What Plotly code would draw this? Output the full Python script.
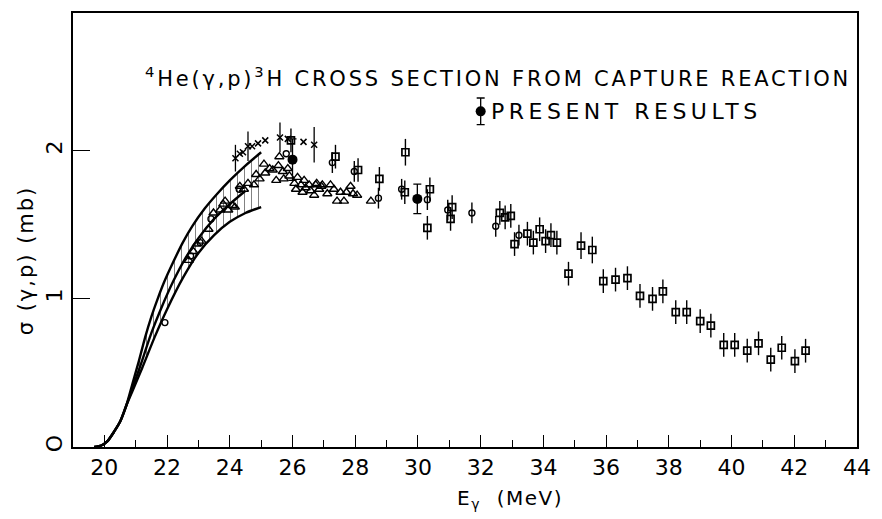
import plotly.graph_objects as go

# ---------------- data ----------------
# theory band (upper / middle / lower curves), E in MeV, sigma in mb
base_E = [19.68, 19.9, 20.1, 20.3, 20.5, 20.7]
base_s = [0.0, 0.01, 0.04, 0.1, 0.17, 0.28]
upper_E = base_E + [20.9, 21.1, 21.3, 21.5, 21.7, 21.9, 22.2, 22.5, 22.8, 23.2, 23.6, 24.0, 24.5, 25.0]
upper_s = base_s + [0.43, 0.58, 0.74, 0.88, 1.0, 1.11, 1.25, 1.38, 1.49, 1.61, 1.71, 1.80, 1.90, 1.99]
middle_E = base_E + [20.9, 21.15, 21.5, 21.8, 22.2, 22.6, 23.0, 23.5, 24.0, 24.5]
middle_s = base_s + [0.40, 0.55, 0.77, 0.93, 1.12, 1.28, 1.41, 1.54, 1.64, 1.73]
lower_E = base_E + [20.9, 21.2, 21.6, 22.0, 22.5, 23.0, 23.5, 24.0, 24.5, 25.0]
lower_s = base_s + [0.38, 0.53, 0.74, 0.93, 1.14, 1.31, 1.43, 1.52, 1.58, 1.62]

# triangles
tri_E = [22.69, 22.84, 22.95, 23.1, 23.32, 23.48, 23.69, 23.79, 23.85, 23.95, 24.09, 24.16,
         24.32, 24.45, 24.58, 24.77, 24.84, 24.95, 25.09, 25.13, 25.27, 25.37, 25.48, 25.55,
         25.58, 25.69, 25.72, 25.85, 25.9, 26.06, 26.11, 26.16, 26.27, 26.32, 26.37, 26.42,
         26.53, 26.58, 26.69, 26.74, 26.77, 26.85, 26.92, 26.95, 27.11, 27.21, 27.32, 27.42,
         27.53, 27.64, 27.72, 27.85, 27.93, 28.06, 28.5]
tri_s = [1.26, 1.32, 1.37, 1.39, 1.47, 1.58, 1.6, 1.64, 1.66, 1.6, 1.63, 1.62,
         1.76, 1.74, 1.78, 1.77, 1.84, 1.81, 1.91, 1.85, 1.88, 1.87, 1.8, 1.9,
         1.96, 1.86, 1.81, 1.88, 1.83, 1.78, 1.74, 1.82, 1.77, 1.72, 1.8, 1.75,
         1.77, 1.73, 1.7, 1.77, 1.78, 1.74, 1.76, 1.77, 1.71, 1.77, 1.74, 1.66,
         1.72, 1.66, 1.72, 1.76, 1.71, 1.7, 1.66]

# open circles (with error bars)
cir_E = [21.93, 22.75, 23.05, 23.4, 24.3, 25.8, 27.27, 27.97, 28.74, 29.48, 30.3, 30.95, 31.72, 32.48, 33.22]
cir_s = [0.84, 1.29, 1.38, 1.54, 1.74, 1.98, 1.92, 1.86, 1.68, 1.74, 1.67, 1.6, 1.58, 1.49, 1.43]
cir_err = [0, 0, 0, 0, 0, 0, 0.07, 0.07, 0.07, 0.07, 0.07, 0.07, 0.07, 0.07, 0.07]

# open squares (with error bars)
sq_E = [25.95, 27.37, 28.09, 28.77, 29.6, 29.58, 30.38, 30.3, 31.09, 31.04, 32.61, 32.78, 32.96,
        33.08, 33.49, 33.68, 33.88, 34.07, 34.24, 34.43, 34.8, 35.2, 35.56, 35.91, 36.3, 36.68,
        37.08, 37.48, 37.81, 38.22, 38.57, 39.0, 39.34, 39.75, 40.1, 40.5, 40.86, 41.25, 41.6,
        42.02, 42.36]
sq_s = [2.07, 1.96, 1.87, 1.81, 1.99, 1.72, 1.74, 1.48, 1.62, 1.54, 1.58, 1.55, 1.56,
        1.37, 1.44, 1.38, 1.47, 1.39, 1.43, 1.38, 1.17, 1.36, 1.33, 1.12, 1.13, 1.14,
        1.02, 1.0, 1.05, 0.91, 0.91, 0.85, 0.82, 0.69, 0.69, 0.65, 0.7, 0.59, 0.67,
        0.58, 0.65]
sq_err = [0.08, 0.08, 0.08, 0.08, 0.09, 0.08, 0.08, 0.08, 0.08, 0.08, 0.08, 0.08, 0.08,
          0.08, 0.08, 0.08, 0.08, 0.08, 0.08, 0.08, 0.08, 0.09, 0.09, 0.08, 0.08, 0.08,
          0.08, 0.08, 0.08, 0.08, 0.08, 0.08, 0.08, 0.08, 0.08, 0.08, 0.08, 0.08, 0.08,
          0.08, 0.08]

# crosses
x_E = [24.18, 24.32, 24.42, 24.58, 24.71, 24.9, 25.13, 25.6, 25.85, 26.35, 26.69]
x_s = [1.95, 1.98, 1.99, 2.03, 2.03, 2.05, 2.07, 2.09, 2.08, 2.06, 2.04]
x_err = [0.09, 0, 0, 0.1, 0, 0, 0, 0.1, 0, 0, 0.12]

# present results (filled circles)
pr_E = [26.0, 29.98]
pr_s = [1.94, 1.675]
pr_err = [0.14, 0.10]

# legend key for present results
key_E = [32.0]
key_s = [2.266]
key_err = [0.09]

x_ticks = [20, 22, 24, 26, 28, 30, 32, 34, 36, 38, 40, 42, 44]
y_ticks = [0, 1, 2]
y_tick_text = ["O", "1", "2"]

# ---------------- figure ----------------
FONT = "DejaVu Sans"


def spaced(txt, px):
    return '<span style="letter-spacing:%spx">%s</span>' % (px, txt)


fig = go.Figure()

band_x = upper_E + lower_E[::-1]
band_y = upper_s + lower_s[::-1]
fig.add_trace(go.Scatter(x=band_x, y=band_y, mode="lines", fill="toself",
                         fillcolor="rgba(0,0,0,0)", line=dict(width=0),
                         fillpattern=dict(shape="|", fgcolor="black", bgcolor="white",
                                          size=7, solidity=0.14),
                         hoverinfo="skip"))
for xs, ys in [(upper_E, upper_s), (middle_E, middle_s), (lower_E, lower_s)]:
    fig.add_trace(go.Scatter(x=xs, y=ys, mode="lines",
                             line=dict(color="black", width=2.4, shape="spline", smoothing=0.6),
                             hoverinfo="skip"))

fig.add_trace(go.Scatter(x=tri_E, y=tri_s, mode="markers",
                         marker=dict(symbol="triangle-up-open", size=8, color="black",
                                     line=dict(width=1.4, color="black"))))
fig.add_trace(go.Scatter(x=cir_E, y=cir_s, mode="markers",
                         error_y=dict(type="data", array=cir_err, width=0, color="black", thickness=1.4),
                         marker=dict(symbol="circle-open", size=6, color="black",
                                     line=dict(width=1.4, color="black"))))
fig.add_trace(go.Scatter(x=sq_E, y=sq_s, mode="markers",
                         error_y=dict(type="data", array=sq_err, width=0, color="black", thickness=1.4),
                         marker=dict(symbol="square-open", size=7, color="black",
                                     line=dict(width=1.7, color="black"))))
fig.add_trace(go.Scatter(x=x_E, y=x_s, mode="markers",
                         error_y=dict(type="data", array=x_err, width=0, color="black", thickness=1.3),
                         marker=dict(symbol="x-thin", size=6, color="black",
                                     line=dict(width=1.5, color="black"))))
fig.add_trace(go.Scatter(x=pr_E, y=pr_s, mode="markers",
                         error_y=dict(type="data", array=pr_err, width=4, color="black", thickness=1.3),
                         marker=dict(symbol="circle", size=10, color="black")))
fig.add_trace(go.Scatter(x=key_E, y=key_s, mode="markers",
                         error_y=dict(type="data", array=key_err, width=4, color="black", thickness=1.3),
                         marker=dict(symbol="circle", size=10, color="black")))

fig.add_annotation(xref="paper", yref="paper", x=0.995, y=0.853, xanchor="right", yanchor="middle",
                   text=spaced("<sup>4</sup>He(γ,p)<sup>3</sup>H CROSS SECTION FROM CAPTURE REACTION", 2.8),
                   showarrow=False, font=dict(family=FONT, size=21, color="black"))
fig.add_annotation(x=32.25, y=2.266, xanchor="left", yanchor="middle",
                   text=spaced("PRESENT RESULTS", 4.5), showarrow=False,
                   font=dict(family=FONT, size=22, color="black"))
fig.add_annotation(xref="paper", yref="paper", x=0.558, y=-0.085, xanchor="center", yanchor="top",
                   text=spaced("E<sub>γ</sub>  (MeV)", 1.5), showarrow=False,
                   font=dict(family=FONT, size=20, color="black"))
fig.add_annotation(xref="paper", yref="paper", x=-0.06, y=0.43, xanchor="center", yanchor="middle",
                   text=spaced("σ (γ,p) (mb)", 2), textangle=-90, showarrow=False,
                   font=dict(family=FONT, size=21, color="black"))

fig.update_layout(
    width=882, height=519,
    margin=dict(l=73, r=16, t=11, b=72),
    paper_bgcolor="white", plot_bgcolor="white",
    showlegend=False,
    font=dict(family=FONT, color="black", size=20),
)
fig.update_xaxes(range=[19, 44], tickvals=x_ticks, ticks="inside", ticklen=12, tickwidth=1.3,
                 tickcolor="black", showline=True, linecolor="black", linewidth=1.5, mirror=True,
                 showgrid=False, zeroline=False, tickfont=dict(family=FONT, size=22),
                 minor=dict(dtick=1, tick0=19, ticks="inside", ticklen=7, tickwidth=1.3, tickcolor="black"))
fig.update_yaxes(range=[0, 2.93], tickvals=y_ticks, ticktext=y_tick_text, ticks="inside", ticklen=17,
                 tickwidth=1.3, tickcolor="black", showline=True, linecolor="black", linewidth=1.5,
                 mirror=True, showgrid=False, zeroline=False, tickangle=-90,
                 tickfont=dict(family=FONT, size=22))

fig.write_html("out.html")
